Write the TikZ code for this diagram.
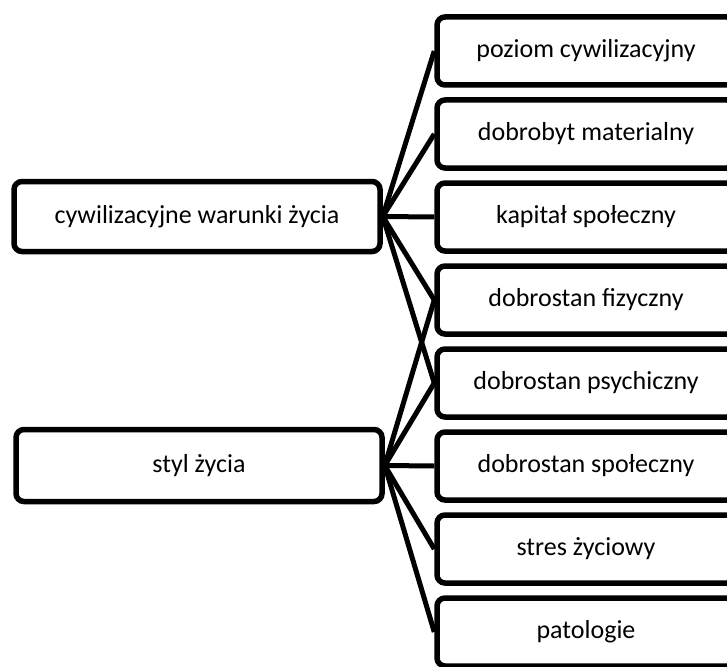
\documentclass[tikz,border=0pt]{standalone}
\usepackage{fontspec}
\setmainfont{Carlito}
\begin{document}
\begin{tikzpicture}[x=1pt,y=1pt]
        \tikzset{
          box/.style={draw=black,line width=5.5pt,rounded corners=8pt,inner sep=0pt,
            font=\fontsize{26}{30}\selectfont},
          leftbox/.style={box,minimum width=366pt,minimum height=70pt},
          rightbox/.style={box,minimum width=298pt,minimum height=68pt},
          link/.style={line width=5pt}
        }
        \useasboundingbox (0,0) rectangle (727,-666);
        \clip (0,0) rectangle (727,-666);
        %LEFT
        \node[leftbox] (warunki) at (197,-216.5) {cywilizacyjne warunki życia};
        \node[leftbox,minimum height=72pt] (styl) at (199,-465.5) {styl życia};
        %RIGHT
        \foreach \name/\txt [count=\i from 0] in {poziom/poziom cywilizacyjny,
            dobrobyt/dobrobyt materialny,kapital/kapitał społeczny,
            fizyczny/dobrostan fizyczny,psychiczny/dobrostan psychiczny,
            spoleczny/dobrostan społeczny,stres/stres życiowy,patologie/patologie}
          \node[rightbox] (\name) at (586,-51-83*\i) {\txt};
        %LINKS
        \foreach \t in {poziom,dobrobyt,kapital,fizyczny,psychiczny}
          \draw[link] (warunki.east) -- (\t.west);
        \foreach \t in {fizyczny,psychiczny,spoleczny,stres,patologie}
          \draw[link] (styl.east) -- (\t.west);
    \end{tikzpicture}
\end{document}
